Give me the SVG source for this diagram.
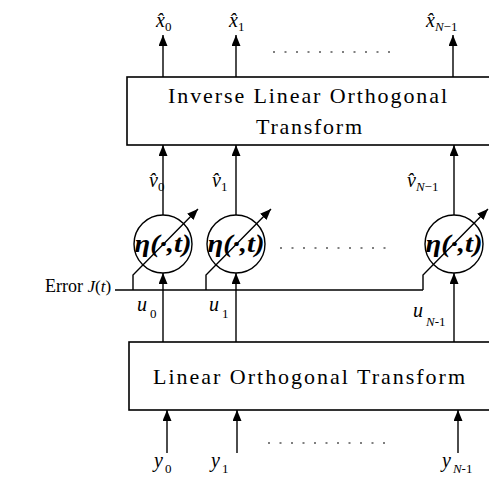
<svg xmlns="http://www.w3.org/2000/svg" width="489" height="485" viewBox="0 0 489 485">
<style>
.box{fill:#fff;stroke:#000;stroke-width:1.6}
.ln{fill:none;stroke:#000;stroke-width:1.4}
.dot{fill:none;stroke:#000;stroke-width:1.2;stroke-dasharray:2 9.5}
.t{font-family:"Liberation Serif","Times New Roman",serif;fill:#000}
.big{font-size:22px}
.lab{font-size:20px;font-style:italic}
.sub{font-size:13px;font-style:normal}
.subi{font-size:13px;font-style:italic}
.eta{font-size:25px;font-weight:bold;font-style:italic}
.cir{fill:#fff;stroke:#000;stroke-width:1.4}
</style>
<defs>
<marker id="ah" markerUnits="userSpaceOnUse" markerWidth="12" markerHeight="10" refX="11" refY="4.5" orient="auto">
<path d="M0,0 L11,4.5 L0,9 z" fill="#000"/>
</marker>
</defs>
<g id="connectors">
<line class="ln" x1="163" y1="77" x2="163" y2="35" marker-end="url(#ah)"/>
<line class="ln" x1="236" y1="77" x2="236" y2="35" marker-end="url(#ah)"/>
<line class="ln" x1="453" y1="77" x2="453" y2="35" marker-end="url(#ah)"/>
<line class="ln" x1="163" y1="215" x2="163" y2="145" marker-end="url(#ah)"/>
<line class="ln" x1="236" y1="215" x2="236" y2="145" marker-end="url(#ah)"/>
<line class="ln" x1="454" y1="215" x2="454" y2="145" marker-end="url(#ah)"/>
<line class="ln" x1="163" y1="342" x2="163" y2="273" marker-end="url(#ah)"/>
<line class="ln" x1="236" y1="342" x2="236" y2="273" marker-end="url(#ah)"/>
<line class="ln" x1="454" y1="342" x2="454" y2="273" marker-end="url(#ah)"/>
<line class="ln" x1="167" y1="453" x2="167" y2="410" marker-end="url(#ah)"/>
<line class="ln" x1="237" y1="453" x2="237" y2="410" marker-end="url(#ah)"/>
<line class="ln" x1="458" y1="453" x2="458" y2="410" marker-end="url(#ah)"/>
<line class="dot" x1="273" y1="52" x2="390" y2="52"/>
<line class="dot" x1="280" y1="248" x2="395" y2="248"/>
<line class="dot" x1="268" y1="443" x2="385" y2="443"/>
</g>
<g id="inverse-transform">
<rect class="box" x="127" y="77" width="370" height="68"/>
<text class="t big" x="307.5" y="103" text-anchor="middle" textLength="279" lengthAdjust="spacing">Inverse Linear Orthogonal</text>
<text class="t big" x="309" y="134" text-anchor="middle" textLength="106" lengthAdjust="spacing">Transform</text>
</g>
<g id="linear-transform">
<rect class="box" x="129" y="342" width="370" height="68"/>
<text class="t big" x="309" y="384" text-anchor="middle" textLength="312" lengthAdjust="spacing">Linear Orthogonal Transform</text>
</g>
<g id="eta0">
<circle class="cir" cx="163" cy="244" r="29"/>
<text class="t eta" x="163" y="252" text-anchor="middle" textLength="57" lengthAdjust="spacingAndGlyphs">η(·,t)</text>
</g>
<g id="eta1">
<circle class="cir" cx="236" cy="244" r="29"/>
<text class="t eta" x="236" y="252" text-anchor="middle" textLength="57" lengthAdjust="spacingAndGlyphs">η(·,t)</text>
</g>
<g id="etaN">
<circle class="cir" cx="454" cy="244" r="29"/>
<text class="t eta" x="454" y="252" text-anchor="middle" textLength="57" lengthAdjust="spacingAndGlyphs">η(·,t)</text>
</g>
<g id="error">
<polyline class="ln" points="115,290 423,290"/>
<polyline class="ln" points="133,290 133,275 198,209" marker-end="url(#ah)"/>
<polyline class="ln" points="206,290 206,275 271,209" marker-end="url(#ah)"/>
<polyline class="ln" points="423,290 423,275 488,209" marker-end="url(#ah)"/>
<text class="t" x="45" y="292" font-size="18">Error <tspan font-size="17" font-style="italic">J</tspan><tspan font-size="17">(</tspan><tspan font-size="17" font-style="italic">t</tspan><tspan font-size="17">)</tspan></text>
</g>
<g id="labels">
<text class="t lab" x="156" y="27">x̂<tspan class="sub" dy="4">0</tspan></text>
<text class="t lab" x="229" y="27">x̂<tspan class="sub" dy="4">1</tspan></text>
<text class="t lab" x="426" y="27">x̂<tspan class="subi" dy="4">N</tspan><tspan class="sub">−1</tspan></text>
<text class="t lab" x="149" y="187">v̂<tspan class="sub" dy="4">0</tspan></text>
<text class="t lab" x="212" y="187">v̂<tspan class="sub" dy="4">1</tspan></text>
<text class="t lab" x="407" y="187">v̂<tspan class="subi" dy="4">N</tspan><tspan class="sub">−1</tspan></text>
<text class="t lab" x="137" y="311">u<tspan class="sub" dy="7" dx="3">0</tspan></text>
<text class="t lab" x="209" y="311">u<tspan class="sub" dy="7" dx="3">1</tspan></text>
<text class="t lab" x="413" y="317">u<tspan class="subi" dy="9" dx="3">N</tspan><tspan class="sub">-1</tspan></text>
<text class="t lab" x="154" y="467">y<tspan class="sub" dy="6" dx="2">0</tspan></text>
<text class="t lab" x="211" y="467">y<tspan class="sub" dy="6" dx="2">1</tspan></text>
<text class="t lab" x="442" y="467">y<tspan class="subi" dy="6" dx="2">N</tspan><tspan class="sub">-1</tspan></text>
</g>
</svg>
